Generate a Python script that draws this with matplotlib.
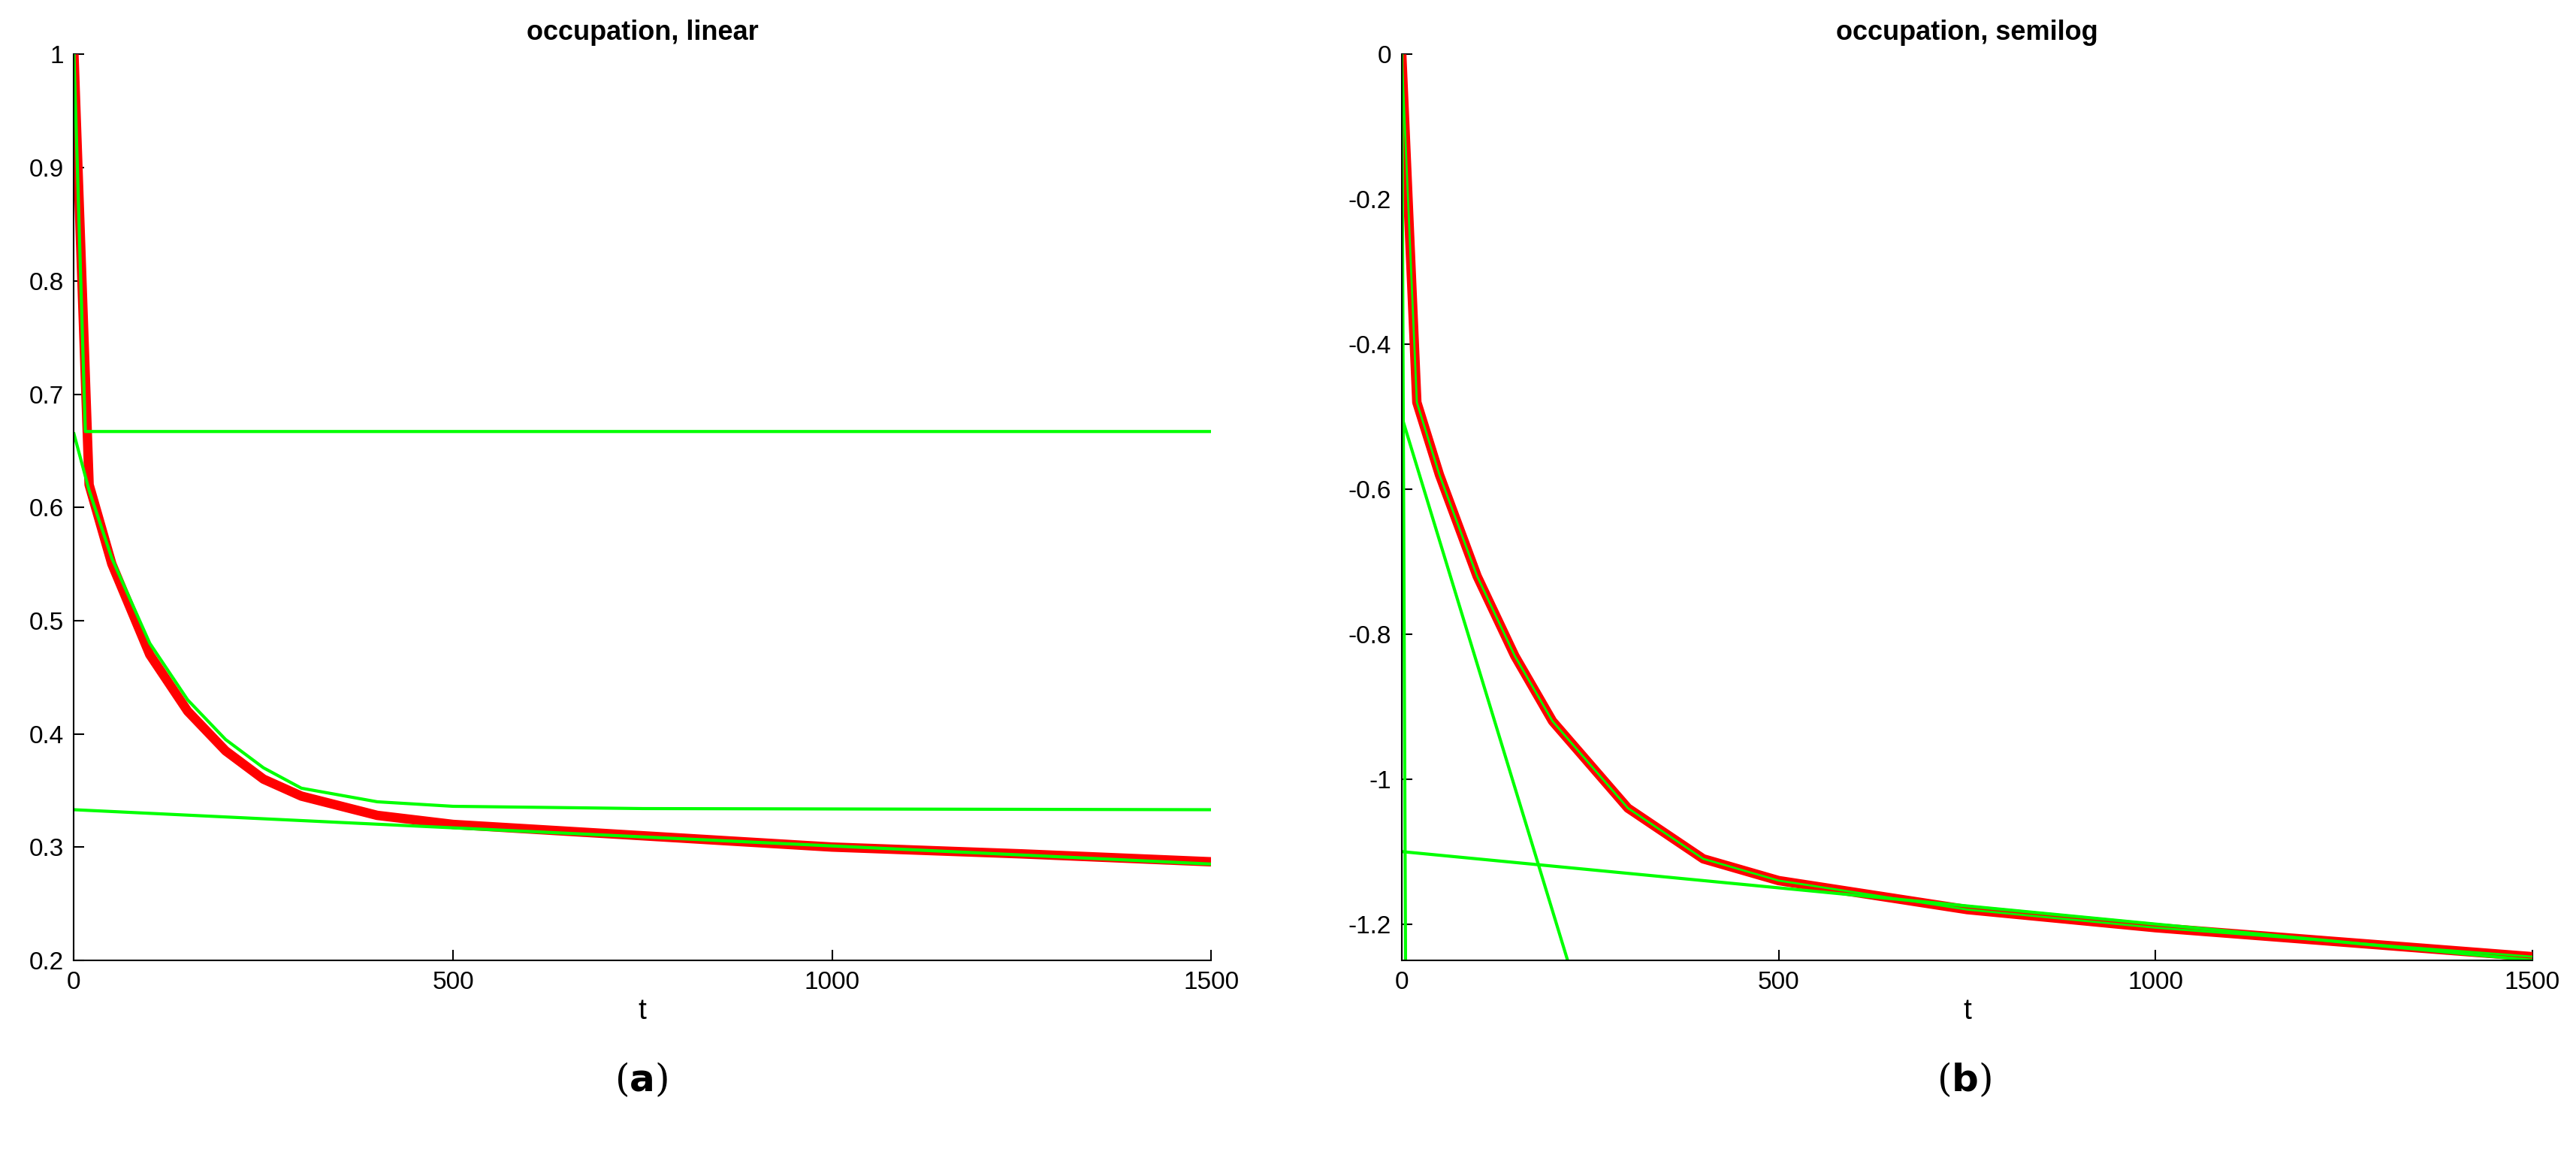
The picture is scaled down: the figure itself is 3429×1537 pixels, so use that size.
import matplotlib.pyplot as plt

# occupation (linear panel)
t_red = [0, 20, 50, 100, 150, 200, 250, 300, 400, 500, 750, 1000, 1250, 1500]
occ_red = [1.0, 0.62, 0.55, 0.47, 0.42, 0.385, 0.36, 0.345, 0.328, 0.32, 0.31, 0.30, 0.294, 0.287]

t_fast = [0, 15, 1500]
occ_fast = [1.0, 0.667, 0.667]
t_mid = [0, 20, 50, 100, 150, 200, 250, 300, 400, 500, 750, 1500]
occ_mid = [0.665, 0.615, 0.555, 0.48, 0.43, 0.395, 0.37, 0.352, 0.34, 0.336, 0.334, 0.333]
t_slow = [0, 1500]
occ_slow = [0.333, 0.285]

# semilog panel (ln occupation)
log_red = [0.0, -0.48, -0.58, -0.72, -0.83, -0.92, -0.98, -1.04, -1.11, -1.14, -1.18, -1.205, -1.225, -1.245]
t_vert = [0, 5]
log_vert = [0.0, -1.25]
t_mid_l = [0, 220]
log_mid_l = [-0.5, -1.25]
t_slow_l = [0, 1500]
log_slow_l = [-1.1, -1.25]

red = "#ff0000"
green = "#00ff00"
plt.rcParams['font.family'] = ['Liberation Sans', 'DejaVu Sans']

fig = plt.figure(figsize=(34.30, 15.37), dpi=100)
ax1 = fig.add_axes([45/1568, 1-582/700, 692/1568, 549/700])
ax2 = fig.add_axes([853/1568, 1-582/700, 688/1568, 549/700])

ax1.plot(t_red, occ_red, color=red, lw=9, solid_capstyle='butt')
ax1.plot(t_fast, occ_fast, color=green, lw=3)
ax1.plot(t_mid, occ_mid, color=green, lw=3)
ax1.plot(t_slow, occ_slow, color=green, lw=3)
ax1.set_xlim(0, 1500)
ax1.set_ylim(0.2, 1)
ax1.set_yticks([0.2, 0.3, 0.4, 0.5, 0.6, 0.7, 0.8, 0.9, 1])
ax1.set_yticklabels(["0.2", "0.3", "0.4", "0.5", "0.6", "0.7", "0.8", "0.9", "1"])
ax1.set_title("occupation, linear", fontsize=26, fontweight='bold', pad=14)

ax2.plot(t_red, log_red, color=red, lw=9, solid_capstyle='butt')
ax2.plot(t_red, log_red, color=green, lw=2)
ax2.plot(t_vert, log_vert, color=green, lw=3)
ax2.plot(t_mid_l, log_mid_l, color=green, lw=3)
ax2.plot(t_slow_l, log_slow_l, color=green, lw=3)
ax2.set_xlim(0, 1500)
ax2.set_ylim(-1.25, 0)
ax2.set_yticks([-1.2, -1, -0.8, -0.6, -0.4, -0.2, 0])
ax2.set_yticklabels(["-1.2", "-1", "-0.8", "-0.6", "-0.4", "-0.2", "0"])
ax2.set_title("occupation, semilog", fontsize=26, fontweight='bold', pad=14)

for ax in (ax1, ax2):
    ax.set_xticks([0, 500, 1000, 1500])
    ax.set_xlabel("t", fontsize=28)
    ax.spines['top'].set_visible(False)
    ax.spines['right'].set_visible(False)
    ax.spines['left'].set_linewidth(1.5)
    ax.spines['bottom'].set_linewidth(1.5)
    ax.tick_params(direction='in', labelsize=24, length=10, width=1.5, pad=10)

fig.text(390/1568, 1-655/700, r"($\mathbf{a}$)", fontsize=36, ha='center', va='center', family='DejaVu Serif')
fig.text(1195/1568, 1-655/700, r"($\mathbf{b}$)", fontsize=36, ha='center', va='center', family='DejaVu Serif')

fig.savefig("out.png")
